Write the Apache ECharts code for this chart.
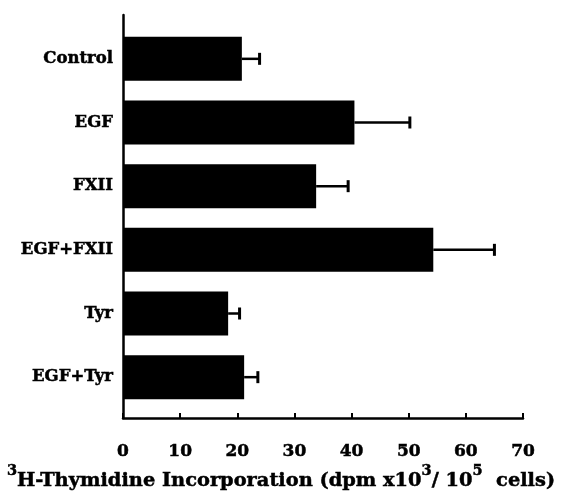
<!DOCTYPE html>
<html>
<head>
<meta charset="utf-8">
<script src="https://cdn.jsdelivr.net/npm/echarts@6/dist/echarts.min.js"></script>
<style>
  html, body { margin: 0; padding: 0; background: #fff; }
  #main { width: 562px; height: 500px; }
</style>
</head>
<body>
<div id="main"></div>
<script>
var categories = ['Control', 'EGF', 'FXII', 'EGF+FXII', 'Tyr', 'EGF+Tyr']
var means = [20.8, 40.5, 33.8, 54.3, 18.4, 21.2]
var errors = [3.1, 9.7, 5.6, 10.7, 2.0, 2.4]
var xTicks = [0, 10, 20, 30, 40, 50, 60, 70]

var chartDom = document.getElementById('main')
var myChart = echarts.init(chartDom)
var font = 'DejaVu Serif'

var errData = means.map(function (m, i) {
  return [m, m + errors[i], i]
})

var option = {
  backgroundColor: '#fff',
  animation: false,
  title: {
    left: 'center',
    top: 459,
    text: '{sup|3}{b|H-Thymidine Incorporation (dpm x10}{sup|3}{b|/ 10}{sup|5}{b|  cells)}',
    textStyle: {
      rich: {
        b: { fontFamily: font, fontWeight: 'bold', fontSize: 19.4, color: '#000', lineHeight: 26, verticalAlign: 'bottom', textBorderColor: '#000', textBorderWidth: 0.5 },
        sup: { fontFamily: font, fontWeight: 'bold', fontSize: 14.5, color: '#000', lineHeight: 26, verticalAlign: 'top', padding: [0, 0, 4, 0], textBorderColor: '#000', textBorderWidth: 0.5 }
      }
    }
  },
  grid: [
    { left: 123, right: 39, top: 27, bottom: 91 },
    { left: 123, right: 39, top: 15, bottom: 82 }
  ],
  xAxis: [
    { gridIndex: 0, type: 'value', min: 0, max: 70, show: false },
    {
      gridIndex: 1,
      type: 'value',
      min: 0,
      max: 70,
      interval: 10,
      axisLine: { show: true, lineStyle: { color: '#000', width: 2.5 } },
      axisTick: { show: true, inside: true, length: 5, lineStyle: { color: '#000', width: 2 } },
      splitLine: { show: false },
      axisLabel: {
        margin: 25,
        fontFamily: font,
        fontWeight: 'bold',
        fontSize: 17,
        color: '#000',
        textBorderColor: '#000',
        textBorderWidth: 0.5,
        formatter: function (v) { return xTicks.indexOf(v) >= 0 ? String(v) : '' }
      }
    }
  ],
  yAxis: [
    {
      gridIndex: 0,
      type: 'category',
      inverse: true,
      data: categories,
      axisLine: { show: false },
      axisTick: { show: false },
      axisLabel: { margin: 10, fontFamily: font, fontWeight: 'bold', fontSize: 16.5, color: '#000', textBorderColor: '#000', textBorderWidth: 0.5 }
    },
    {
      gridIndex: 1,
      type: 'value',
      axisLine: { show: true, lineStyle: { color: '#000', width: 2.5 } },
      axisTick: { show: false },
      axisLabel: { show: false },
      splitLine: { show: false }
    }
  ],
  series: [
    {
      type: 'bar',
      xAxisIndex: 0,
      yAxisIndex: 0,
      data: means,
      barWidth: 44,
      itemStyle: { color: '#000' }
    },
    {
      type: 'custom',
      xAxisIndex: 0,
      yAxisIndex: 0,
      data: errData,
      encode: { x: [0, 1], y: 2 },
      renderItem: function (params, api) {
        var p0 = api.coord([api.value(0), api.value(2)])
        var p1 = api.coord([api.value(1), api.value(2)])
        var h = 6
        return {
          type: 'group',
          children: [
            { type: 'line', shape: { x1: p0[0], y1: p0[1], x2: p1[0], y2: p1[1] }, style: { stroke: '#000', lineWidth: 2.5 } },
            { type: 'line', shape: { x1: p1[0], y1: p1[1] - h, x2: p1[0], y2: p1[1] + h }, style: { stroke: '#000', lineWidth: 3 } }
          ]
        }
      }
    }
  ]
}
option && myChart.setOption(option)
</script>
</body>
</html>
